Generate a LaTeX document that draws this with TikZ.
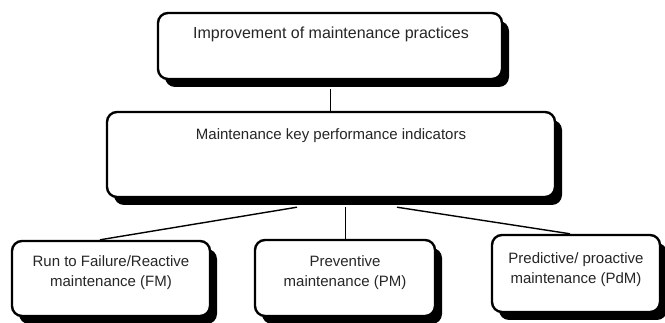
\documentclass[tikz,border=0pt]{standalone}
\usepackage{fontspec}
\setmainfont{Liberation Sans}
\usetikzlibrary{shadows,calc}
\begin{document}
\begin{tikzpicture}[x=1pt,y=-1pt,
  box/.style={draw=black,line width=2.4pt,fill=white,rounded corners=10pt,
    inner sep=0pt,
    drop shadow={shadow xshift=7pt,shadow yshift=-8pt,fill=black,opacity=1}},
  lbl/.style={align=center,inner sep=0pt,text=black!85,font=\fontsize{15}{20}\selectfont},
  conn/.style={line width=1.4pt}]
\useasboundingbox (0,0) rectangle (665,323);
% boxes
\node[box,minimum width=344pt,minimum height=66pt] (top) at (330,46) {};
\node[box,minimum width=448pt,minimum height=85pt] (mid) at (331,154.5) {};
\node[box,minimum width=198pt,minimum height=75pt] (fm) at (111,278.5) {};
\node[box,minimum width=180pt,minimum height=76pt] (pm) at (345,278) {};
\node[box,minimum width=168pt,minimum height=77pt] (pdm) at (576,273.5) {};
% texts
\node[lbl,font=\fontsize{16}{20}\selectfont] (ttop) at (331,34) {Improvement of maintenance practices};
\node[lbl] (tmid) at (331,136) {Maintenance key performance indicators};
\node[lbl] (tfm) at (111,273) {Run to Failure/Reactive\\maintenance (FM)};
\node[lbl] (tpm) at (345,273) {Preventive\\maintenance (PM)};
\node[lbl] (tpdm) at (576,270) {Predictive/ proactive\\maintenance (PdM)};
% connector anchors
\coordinate (topb) at ([yshift=-9pt]top.south);
\coordinate (mL) at ([xshift=-34pt,yshift=-9pt]mid.south);
\coordinate (mC) at ([xshift=14pt,yshift=-9pt]mid.south);
\coordinate (mR) at ([xshift=66pt,yshift=-9pt]mid.south);
% connectors
\draw[line width=1pt] (topb) -- (topb |- mid.north);
\draw[conn] (mL) -- ([xshift=-11pt]fm.north);
\draw[line width=1pt] (mC) -- (pm.north);
\draw[conn] (mR) -- ([xshift=-6pt]pdm.north);
\end{tikzpicture}
\end{document}
